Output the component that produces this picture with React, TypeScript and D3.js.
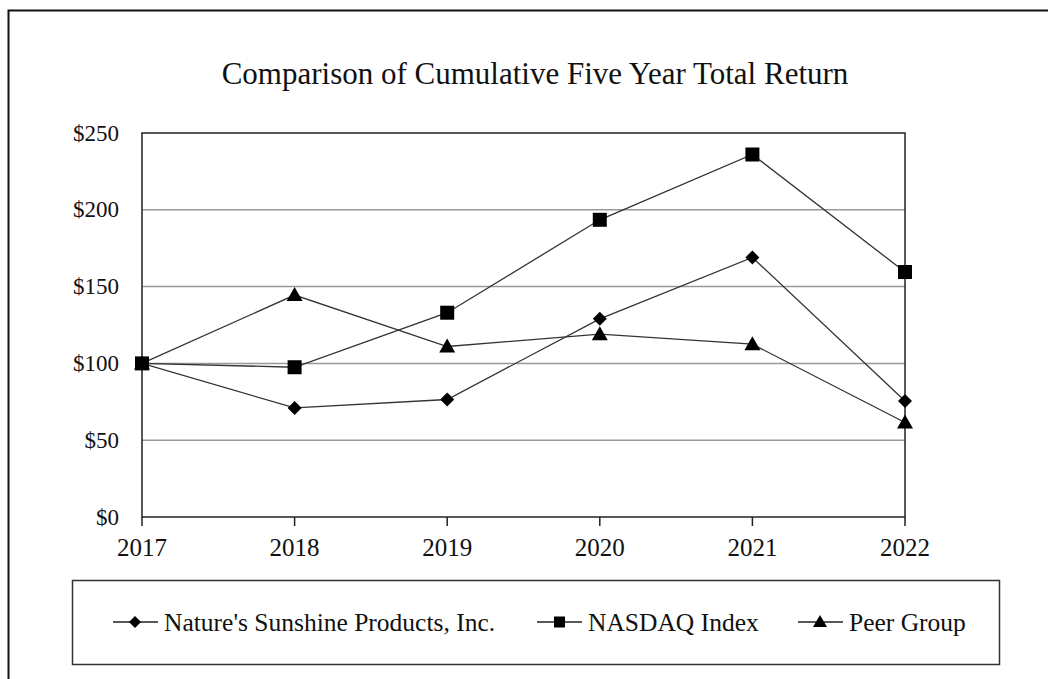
import { useEffect, useRef } from "react";
import * as d3 from "d3";

const years = ["2017", "2018", "2019", "2020", "2021", "2022"];
const natures = [100, 71, 76.5, 129, 169, 75.5];
const nasdaq = [100, 97.5, 133, 193.5, 236, 159.5];
const peers = [100, 144.5, 111, 119, 112.5, 61.5];
const yTicks = [0, 50, 100, 150, 200, 250];

const seriesList = [
  { name: "Nature's Sunshine Products, Inc.", values: natures, symbol: "diamond" },
  { name: "NASDAQ Index", values: nasdaq, symbol: "square" },
  { name: "Peer Group", values: peers, symbol: "triangle" },
];

const W = 1048;
const H = 679;
const FONT = "'Liberation Serif', 'Times New Roman', serif";

const drawMarker = (g: any, kind: string, cx: number, cy: number) => {
  if (kind === "square") {
    g.append("rect")
      .attr("x", cx - 7)
      .attr("y", cy - 7)
      .attr("width", 14)
      .attr("height", 14)
      .attr("fill", "#000");
  } else if (kind === "diamond") {
    g.append("path")
      .attr("d", `M${cx},${cy - 7}L${cx + 7},${cy}L${cx},${cy + 7}L${cx - 7},${cy}Z`)
      .attr("fill", "#000");
  } else {
    g.append("path")
      .attr("d", `M${cx},${cy - 8}L${cx + 8},${cy + 6}L${cx - 8},${cy + 6}Z`)
      .attr("fill", "#000");
  }
};

export default function App() {
  const ref = useRef<HTMLDivElement>(null);

  useEffect(() => {
    d3.select(ref.current).select("svg").remove();

    const svg = d3
      .select(ref.current)
      .append("svg")
      .attr("width", W)
      .attr("height", H)
      .style("display", "block")
      .style("font-family", FONT);

    svg.append("rect").attr("width", W).attr("height", H).attr("fill", "#fff");

    // outer frame (runs off the right and bottom)
    svg.append("path")
      .attr("d", `M${W + 5},10.5H8.5V${H + 5}`)
      .attr("fill", "none")
      .attr("stroke", "#111")
      .attr("stroke-width", 2);

    svg.append("text")
      .attr("x", 535)
      .attr("y", 84)
      .attr("text-anchor", "middle")
      .attr("font-size", 31)
      .attr("fill", "#111")
      .text("Comparison of Cumulative Five Year Total Return");

    const x = d3.scalePoint().domain(years).range([142, 905]);
    const y = d3.scaleLinear().domain([0, 250]).range([517, 133]);

    const plot = svg.append("g");

    // gridlines
    plot.selectAll(".grid")
      .data(yTicks.filter((t) => t > 0 && t < 250))
      .enter()
      .append("line")
      .attr("x1", 142)
      .attr("x2", 905)
      .attr("y1", (d) => y(d))
      .attr("y2", (d) => y(d))
      .attr("stroke", "#999")
      .attr("stroke-width", 1.5);

    // frame
    plot.append("rect")
      .attr("x", 142)
      .attr("y", 133)
      .attr("width", 905 - 142)
      .attr("height", 517 - 133)
      .attr("fill", "none")
      .attr("stroke", "#222")
      .attr("stroke-width", 1.5);

    // x ticks
    plot.selectAll(".xt")
      .data(years)
      .enter()
      .append("line")
      .attr("x1", (d) => x(d)!)
      .attr("x2", (d) => x(d)!)
      .attr("y1", 517)
      .attr("y2", 526)
      .attr("stroke", "#222")
      .attr("stroke-width", 1.5);

    plot.selectAll(".xl")
      .data(years)
      .enter()
      .append("text")
      .attr("x", (d) => x(d)!)
      .attr("y", 556)
      .attr("text-anchor", "middle")
      .attr("font-size", 25)
      .attr("fill", "#111")
      .text((d) => d);

    plot.selectAll(".yl")
      .data(yTicks)
      .enter()
      .append("text")
      .attr("x", 119)
      .attr("y", (d) => y(d) + 7.5)
      .attr("text-anchor", "end")
      .attr("font-size", 23)
      .attr("fill", "#111")
      .text((d) => `$${d}`);

    const line = d3
      .line<number>()
      .x((_, i) => x(years[i])!)
      .y((d) => y(d));

    seriesList.forEach((s) => {
      plot.append("path")
        .attr("d", line(s.values))
        .attr("fill", "none")
        .attr("stroke", "#333")
        .attr("stroke-width", 1.3);
    });
    seriesList.forEach((s) => {
      s.values.forEach((v, i) => drawMarker(plot, s.symbol, x(years[i])!, y(v)));
    });

    // legend
    const lg = svg.append("g");
    lg.append("rect")
      .attr("x", 72.5)
      .attr("y", 580.5)
      .attr("width", 927)
      .attr("height", 84)
      .attr("fill", "#fff")
      .attr("stroke", "#333")
      .attr("stroke-width", 1.5);

    const legendX = [113, 537, 798];
    seriesList.forEach((s, i) => {
      const lx = legendX[i];
      const ly = 622;
      lg.append("line")
        .attr("x1", lx)
        .attr("x2", lx + 45)
        .attr("y1", ly)
        .attr("y2", ly)
        .attr("stroke", "#222")
        .attr("stroke-width", 1.5);
      const mk = lg.append("g");
      if (s.symbol === "square") {
        mk.append("rect").attr("x", lx + 17).attr("y", ly - 5.5).attr("width", 11).attr("height", 11).attr("fill", "#000");
      } else if (s.symbol === "diamond") {
        mk.append("path").attr("d", `M${lx + 22},${ly - 6}L${lx + 28},${ly}L${lx + 22},${ly + 6}L${lx + 16},${ly}Z`).attr("fill", "#000");
      } else {
        mk.append("path").attr("d", `M${lx + 22},${ly - 7}L${lx + 29},${ly + 5}L${lx + 15},${ly + 5}Z`).attr("fill", "#000");
      }
      lg.append("text")
        .attr("x", lx + 51)
        .attr("y", ly + 8.5)
        .attr("font-size", 25.5)
        .attr("fill", "#111")
        .text(s.name);
    });
  }, []);

  return (
    <div
      ref={ref}
      style={{ position: "fixed", top: 0, left: 0, width: W, height: H, overflow: "hidden" }}
    />
  );
}
